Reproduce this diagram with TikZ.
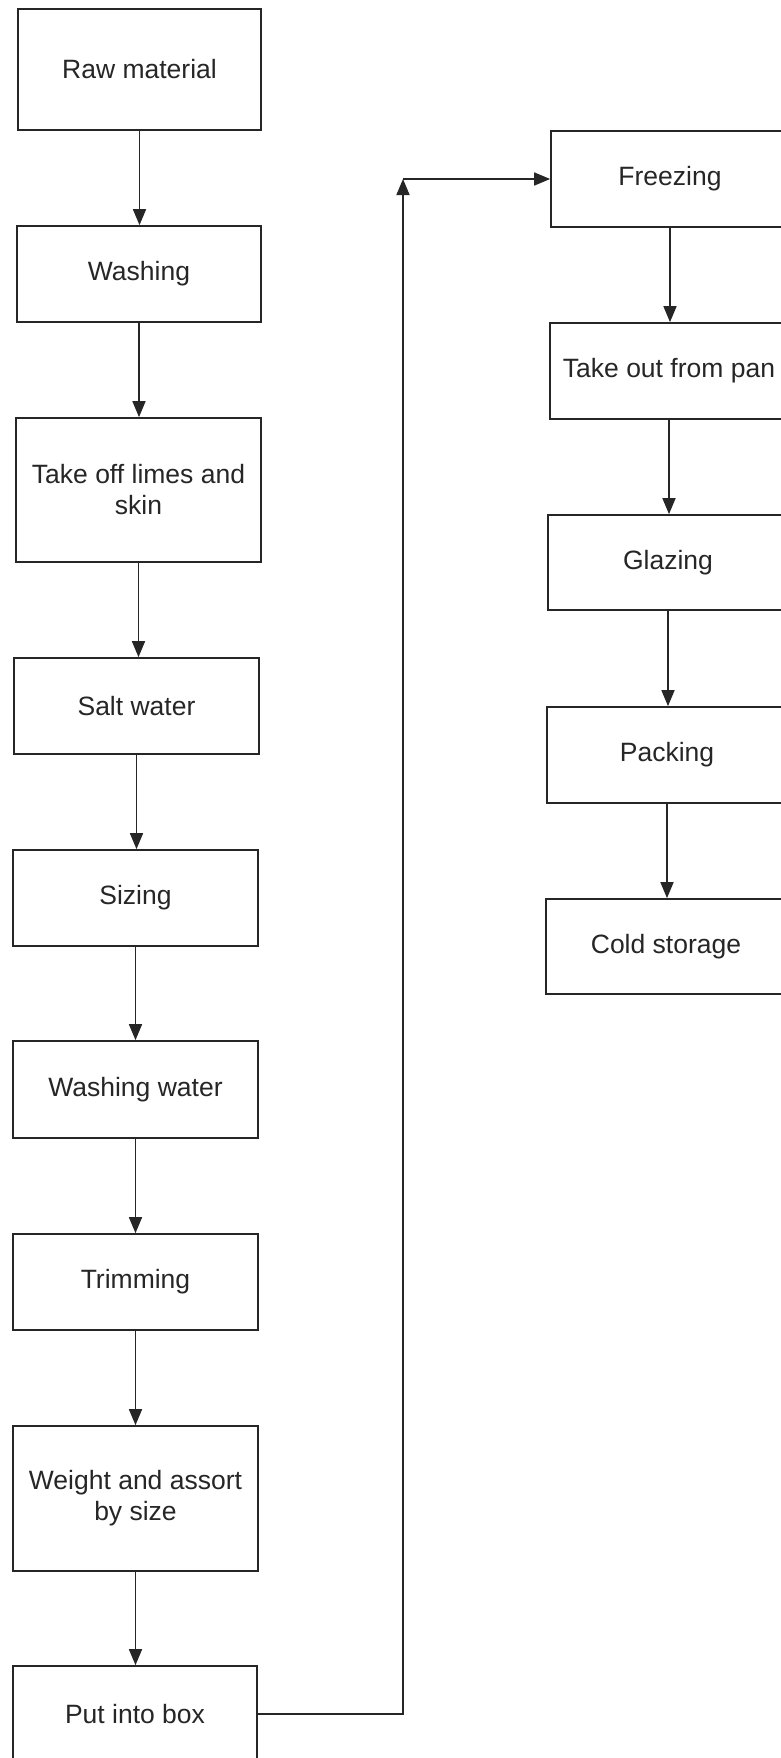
\documentclass[tikz,border=0pt]{standalone}
\usepackage{fontspec}
\setmainfont{Liberation Sans}
\usetikzlibrary{arrows.meta}
\definecolor{ink}{HTML}{262626}
\begin{document}
\begin{tikzpicture}[x=1pt,y=-1pt,
  stepbox/.style={draw=ink, line width=1.7pt, rectangle, inner sep=0pt, align=center,
    text=ink, font=\fontsize{26.5}{31}\selectfont},
  flow/.style={draw=ink, line width=1.6pt, -{Triangle[length=16pt,width=13pt]}}]
\useasboundingbox (0,0) rectangle (781,1758);
\clip (0,0) rectangle (781,1758);
\fill[white] (0,0) rectangle (781,1758);
% left column
\node[stepbox, minimum width=243pt, minimum height=121pt] (raw) at (139.5,69.5) {Raw material};
\node[stepbox, minimum width=244pt, minimum height=96pt] (wash) at (139,274) {Washing};
\node[stepbox, minimum width=245pt, minimum height=144pt] (take) at (138.5,490) {Take off limes and\\skin};
\node[stepbox, minimum width=245pt, minimum height=96pt] (salt) at (136.5,706) {Salt water};
\node[stepbox, minimum width=245pt, minimum height=96pt] (size) at (135.5,898) {Sizing};
\node[stepbox, minimum width=245pt, minimum height=97pt] (wwat) at (135.5,1089.5) {Washing water};
\node[stepbox, minimum width=245pt, minimum height=96pt] (trim) at (135.5,1282) {Trimming};
\node[stepbox, minimum width=245pt, minimum height=145pt] (weig) at (135.5,1498.5) {Weight and assort\\by size};
\node[stepbox, minimum width=244pt, minimum height=96pt] (box) at (135,1714) {Put into box};
% right column
\node[stepbox, minimum width=238pt, minimum height=96pt] (free) at (670,179) {Freezing};
\node[stepbox, minimum width=238pt, minimum height=96pt] (pan) at (669,371) {Take out from pan};
\node[stepbox, minimum width=240pt, minimum height=95pt] (glaz) at (668,562.5) {Glazing};
\node[stepbox, minimum width=240pt, minimum height=96pt] (pack) at (667,755) {Packing};
\node[stepbox, minimum width=240pt, minimum height=95pt] (cold) at (666,946.5) {Cold storage};
\coordinate (turn) at (403,179);
% connectors
\draw[flow] (raw.south) -- (raw.south |- wash.north);
\draw[flow] (wash.south) -- (wash.south |- take.north);
\draw[flow] (take.south) -- (take.south |- salt.north);
\draw[flow] (salt.south) -- (salt.south |- size.north);
\draw[flow] (size.south) -- (size.south |- wwat.north);
\draw[flow] (wwat.south) -- (wwat.south |- trim.north);
\draw[flow] (trim.south) -- (trim.south |- weig.north);
\draw[flow] (weig.south) -- (weig.south |- box.north);
\draw[flow] (box.east) -| (turn);
\draw[flow] (turn) -- (free.west);
\draw[flow] (free.south) -- (free.south |- pan.north);
\draw[flow] (pan.south) -- (pan.south |- glaz.north);
\draw[flow] (glaz.south) -- (glaz.south |- pack.north);
\draw[flow] (pack.south) -- (pack.south |- cold.north);
\end{tikzpicture}
\end{document}
